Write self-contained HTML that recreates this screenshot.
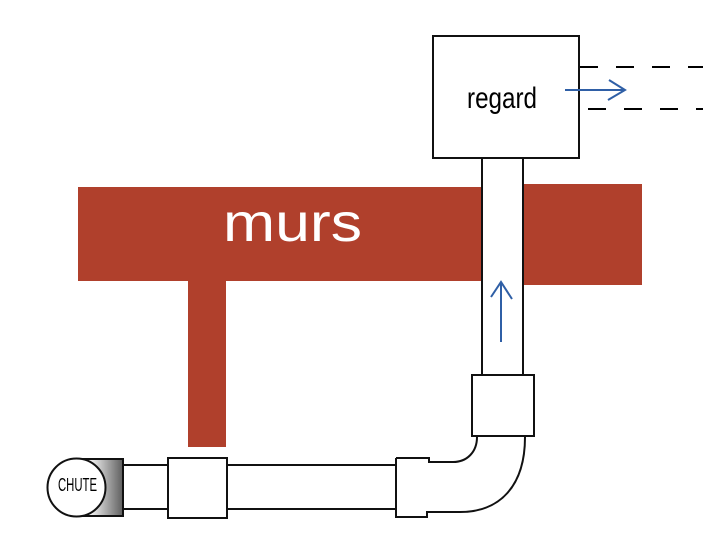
<!DOCTYPE html>
<html>
<head>
<meta charset="utf-8">
<style>
html,body{margin:0;padding:0;background:#fff;}
svg{display:block;}
</style>
</head>
<body>
<svg width="703" height="540" viewBox="0 0 703 540" xmlns="http://www.w3.org/2000/svg">
  <defs>
    <linearGradient id="g" x1="0" y1="0" x2="1" y2="0">
      <stop offset="0" stop-color="#ffffff"/>
      <stop offset="0.3" stop-color="#f2f2f2"/>
      <stop offset="1" stop-color="#5e5e5e"/>
    </linearGradient>
  </defs>

  <!-- walls -->
  <rect x="78" y="187" width="405" height="94" fill="#b0402c"/>
  <rect x="188" y="281" width="38" height="166" fill="#b0402c"/>
  <rect x="523" y="184" width="119" height="101" fill="#b0402c"/>
  <text x="223" y="241" font-family="Liberation Sans, sans-serif" font-size="54" fill="#ffffff" textLength="139" lengthAdjust="spacingAndGlyphs">murs</text>

  <!-- vertical pipe -->
  <rect x="482" y="157" width="41" height="219" fill="#fff" stroke="#111" stroke-width="2"/>

  <!-- regard box -->
  <rect x="433" y="36" width="146" height="122" fill="#fff" stroke="#111" stroke-width="2"/>
  <text x="467" y="108" font-family="Liberation Sans, sans-serif" font-size="30" fill="#000" textLength="70" lengthAdjust="spacingAndGlyphs">regard</text>

  <!-- dashed lines -->
  <line x1="580" y1="67" x2="703" y2="67" stroke="#000" stroke-width="2" stroke-dasharray="18 18"/>
  <line x1="588" y1="109" x2="703" y2="109" stroke="#000" stroke-width="2" stroke-dasharray="18 18"/>

  <!-- blue arrow right -->
  <line x1="565" y1="90" x2="625" y2="90" stroke="#2f5fa6" stroke-width="2"/>
  <polyline points="609,80 625,90 608,100" fill="none" stroke="#2f5fa6" stroke-width="2"/>

  <!-- blue arrow up -->
  <line x1="501" y1="342" x2="501" y2="282" stroke="#2f5fa6" stroke-width="2"/>
  <polyline points="491,297 501,282 512,299" fill="none" stroke="#2f5fa6" stroke-width="2"/>

  <!-- upper coupler -->
  <rect x="472" y="375" width="62" height="61" fill="#fff" stroke="#111" stroke-width="2"/>

  <!-- horizontal pipes -->
  <rect x="122" y="465" width="46" height="44" fill="#fff" stroke="#111" stroke-width="2"/>
  <rect x="227" y="465" width="169" height="44" fill="#fff" stroke="#111" stroke-width="2"/>

  <!-- lower coupler -->
  <rect x="168" y="458" width="59" height="60" fill="#fff" stroke="#111" stroke-width="2"/>

  <!-- elbow -->
  <path d="M396,458 H429 V462 H453 C467,462 477,452 477,437 L525,437 C525,486 500,512 460,512 H427 V517 H396 Z" fill="#fff" stroke="none"/>
  <path d="M396,458 H429 V462 H453 C467,462 477,452 477,437" fill="none" stroke="#111" stroke-width="2"/>
  <path d="M525,437 C525,486 500,512 460,512 H427 V517 H396 V458" fill="none" stroke="#111" stroke-width="2"/>

  <!-- chute -->
  <path d="M77,459 H123 V516 H77 Z" fill="url(#g)" stroke="none"/>
  <path d="M77,459 H123 V516 H77" fill="none" stroke="#111" stroke-width="2"/>
  <circle cx="76.5" cy="487.5" r="29" fill="#fff" stroke="#111" stroke-width="2"/>
  <text x="58" y="491" font-family="Liberation Sans, sans-serif" font-size="18" fill="#000" textLength="39" lengthAdjust="spacingAndGlyphs">CHUTE</text>
</svg>
</body>
</html>
